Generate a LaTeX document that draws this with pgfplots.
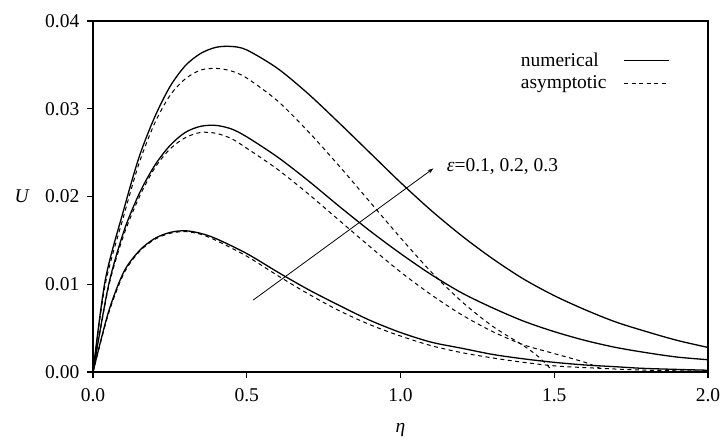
\documentclass[border=0pt]{standalone}
\usepackage{fontspec}
\setmainfont{Liberation Serif}
\usepackage{pgfplots}
\pgfplotsset{compat=1.18}
\usetikzlibrary{arrows.meta}

\begin{document}
\fontsize{19.5bp}{23bp}\selectfont
\begin{tikzpicture}
\path[use as bounding box] (-93bp,-74bp) rectangle (630bp,372bp);
\begin{axis}[
scale only axis,
width=615bp, height=351bp,
xmin=0, xmax=2, ymin=0, ymax=0.04,
xtick={0,0.5,...,2}, ytick={0,0.01,...,0.04},
tick pos=left, tick align=outside,
major tick length=6bp,
axis line style={line width=1.1bp},
every tick/.style={black, line width=1.1bp},
/pgf/number format/assume math mode=true,
xticklabel style={yshift=-4bp, /pgf/number format/.cd, fixed, fixed zerofill, precision=1},
yticklabel style={xshift=-1bp, /pgf/number format/.cd, fixed, fixed zerofill, precision=2},
scaled y ticks=false,
every axis x label/.style={at={(axis description cs:0.5,-0.165)}, anchor=center},
every axis y label/.style={at={(axis description cs:-0.115,0.5)}, anchor=center},
xlabel={\textit{η}}, ylabel={\textit{U}},
legend plot pos=right,
legend cell align=left,
legend style={draw=none, fill=none, at={(0.943,0.922)}, anchor=north east,
  row sep=3bp, font=\fontsize{19.5bp}{23bp}\selectfont},
legend image code/.code={\path (0bp,0bp); \draw[#1] (15bp,0bp) -- (60bp,0bp);},
num/.style={black, line width=1.3bp, smooth, no marks},
asy/.style={black, line width=1bp, dash pattern=on 4bp off 3.5bp, smooth, no marks},
]
% epsilon = 0.3
\addplot[num] coordinates {
(0,0) (0.04,0.0105) (0.1,0.0185) (0.15,0.0245) (0.2,0.0290) (0.25,0.0325)
(0.3,0.0349) (0.35,0.0363) (0.4,0.0370) (0.45,0.0371) (0.5,0.0367)
(0.6,0.0346) (0.7,0.0317) (0.8,0.0284) (0.9,0.0250) (1.0,0.0216)
(1.1,0.0184) (1.2,0.0155) (1.3,0.0129) (1.4,0.0106) (1.5,0.0087)
(1.6,0.0071) (1.7,0.0057) (1.8,0.0046) (1.9,0.0036) (2.0,0.0028)};
\addlegendentry{numerical}
\addplot[asy] coordinates {
(0,0) (0.04,0.0100) (0.1,0.0178) (0.15,0.0238) (0.2,0.0283) (0.25,0.0315)
(0.3,0.0334) (0.35,0.0344) (0.4,0.0346) (0.45,0.0343) (0.5,0.0335)
(0.6,0.0309) (0.7,0.0274) (0.8,0.0235) (0.9,0.0194) (1.0,0.0153)
(1.1,0.0114) (1.2,0.0080) (1.3,0.0052) (1.4,0.0030) (1.45,0.0017) (1.49,0.0003)};
\addlegendentry{asymptotic}
% epsilon = 0.2
\addplot[num] coordinates {
(0,0) (0.05,0.0098) (0.1,0.0160) (0.15,0.0203) (0.2,0.0235) (0.25,0.0258)
(0.3,0.0273) (0.35,0.0280) (0.4,0.0281) (0.45,0.0277) (0.5,0.0268)
(0.6,0.0245) (0.7,0.0218) (0.8,0.0189) (0.9,0.0161) (1.0,0.0135)
(1.1,0.0111) (1.2,0.0090) (1.3,0.0073) (1.4,0.0058) (1.5,0.0046)
(1.6,0.0036) (1.7,0.0028) (1.8,0.0022) (1.9,0.0017) (2.0,0.0014)};
\addplot[asy] coordinates {
(0,0) (0.05,0.0096) (0.1,0.0156) (0.15,0.0199) (0.2,0.0232) (0.25,0.0254)
(0.3,0.0267) (0.35,0.0273) (0.4,0.0272) (0.45,0.0266) (0.5,0.0255)
(0.6,0.0231) (0.7,0.0203) (0.8,0.0173) (0.9,0.0143) (1.0,0.0114)
(1.1,0.0088) (1.2,0.0065) (1.3,0.0046) (1.4,0.0031) (1.5,0.0021)
(1.6,0.0011) (1.65,0.0004)};
% epsilon = 0.1
\addplot[num] coordinates {
(0,0) (0.05,0.0068) (0.1,0.0114) (0.15,0.0138) (0.2,0.0152) (0.25,0.0159)
(0.3,0.0161) (0.35,0.0158) (0.4,0.0152) (0.5,0.0135) (0.6,0.0114)
(0.7,0.0094) (0.8,0.0076) (0.9,0.0059) (1.0,0.0045) (1.1,0.0034)
(1.2,0.0027) (1.3,0.0020) (1.4,0.0015) (1.5,0.0011) (1.6,0.0008)
(1.7,0.0006) (1.8,0.0004) (2.0,0.0002)};
\addplot[asy] coordinates {
(0,0) (0.05,0.0066) (0.1,0.0112) (0.15,0.0137) (0.2,0.0151) (0.25,0.0158)
(0.3,0.0160) (0.35,0.0157) (0.4,0.0150) (0.5,0.0132) (0.6,0.0110)
(0.7,0.0089) (0.8,0.0070) (0.9,0.0054) (1.0,0.0041) (1.1,0.0030)
(1.2,0.0022) (1.3,0.0016) (1.4,0.0011) (1.5,0.0007) (1.6,0.0005)
(1.8,0.0002) (2.0,0.0001)};
\draw[line width=0.8bp, -{Stealth[length=6bp,width=4bp]}] (axis cs:0.521,0.0082) -- (axis cs:1.107,0.0232);
\node[anchor=west, inner sep=0pt] at (axis cs:1.15,0.0234) {\textit{ε}=0.1, 0.2, 0.3};
\end{axis}
\end{tikzpicture}
\end{document}
